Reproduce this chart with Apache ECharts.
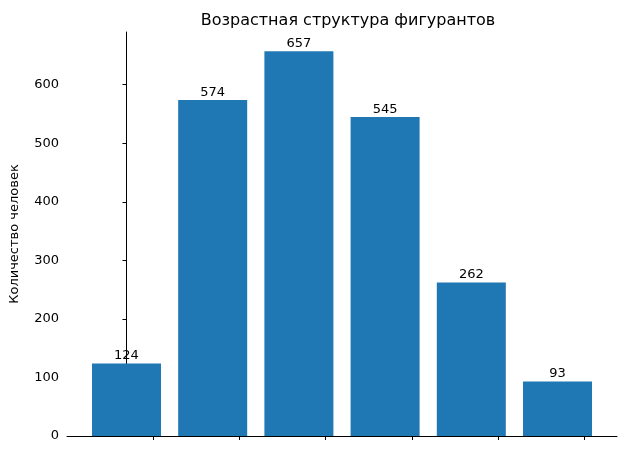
<!DOCTYPE html>
<html><head><meta charset="utf-8">
<script src="https://cdn.jsdelivr.net/npm/echarts@6/dist/echarts.min.js"></script>
<style>html,body{margin:0;padding:0;background:#fff}#c{width:630px;height:470px}</style>
</head><body><div id="c"></div>
<script>
const categories = ['<25','25-34','35-44','45-54','55-64','65+'];
const values = [124, 574, 657, 545, 262, 93];
const yTicks = [0,100,200,300,400,500,600];
const chart = echarts.init(document.getElementById('c'));
const font = 'DejaVu Sans';
chart.setOption({
  animation:false,
  title:{text:'Возрастная структура фигурантов',left:343,top:8,textAlign:'center',
    textStyle:{fontFamily:font,fontSize:16,fontWeight:'normal',color:'#000'}},
  grid:{left:67,right:13,top:32,bottom:34},
  xAxis:{type:'value',min:-0.69,max:5.69,interval:1,
    axisLine:{lineStyle:{color:'#000'}},
    axisTick:{show:true,lineStyle:{color:'#000'},length:4},
    splitLine:{show:false},
    axisLabel:{fontFamily:font,fontSize:13,color:'#000',showMinLabel:false,showMaxLabel:false,
      formatter:v=>{const i=Math.round(v);return Math.abs(v-i)<1e-6&&i>=0&&i<categories.length?categories[i]:'';}}},
  yAxis:{type:'value',min:0,max:690,interval:100,
    name:'Количество человек',nameLocation:'middle',nameGap:46,
    nameTextStyle:{fontFamily:font,fontSize:13,color:'#000'},
    axisLine:{show:true,lineStyle:{color:'#000'}},
    axisTick:{show:true,lineStyle:{color:'#000'},length:4},
    splitLine:{show:false},
    axisLabel:{fontFamily:font,fontSize:13,color:'#000',showMaxLabel:false,
      formatter:v=>yTicks.includes(v)?String(v):''}},
  series:[{type:'bar',barWidth:69,itemStyle:{color:'#1f77b4'},
    data:values.map((v,i)=>[i,v]),
    label:{show:true,position:'top',distance:1,fontFamily:font,fontSize:13,color:'#000',formatter:p=>p.value[1]}},
    {type:'line',data:[],markLine:{}}]
});
</script></body></html>
